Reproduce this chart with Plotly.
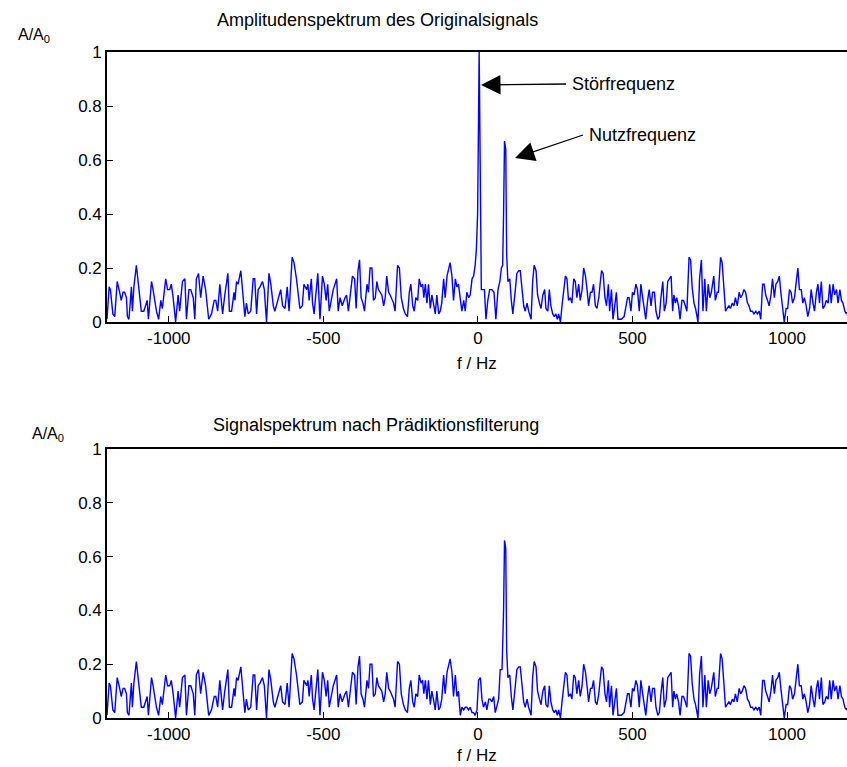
"""
Amplitudenspektrum vor und nach Prädiktionsfilterung
"""
import plotly.graph_objects as go

W, H = 847, 767
ML = 107           # linker Rand in px

# Originalsignal: Frequenz (Hz) und normierte Amplitude A/A0
FREQ_ORIG = [
    -1200, -1193, -1189, -1181, -1175, -1167, -1159, -1154, -1148, -1143, -1137, -1134, -1129, -1121,
    -1118, -1113, -1105, -1097, -1094, -1089, -1081, -1075, -1070, -1066, -1056, -1051, -1046, -1040,
    -1033, -1026, -1021, -1010, -1004, -997, -992, -986, -978, -970, -965, -956, -948, -943, -935,
    -929, -921, -916, -911, -904, -897, -889, -881, -871, -862, -853, -848, -842, -835, -826, -819,
    -813, -809, -804, -797, -789, -786, -781, -776, -767, -762, -754, -749, -743, -735, -727, -722,
    -716, -711, -705, -697, -691, -684, -676, -670, -662, -657, -646, -638, -632, -624, -617, -611,
    -601, -595, -587, -576, -568, -563, -554, -550, -546, -539, -535, -530, -518, -511, -503, -497,
    -491, -486, -481, -468, -457, -452, -446, -439, -430, -425, -419,
    -406, -399, -394, -388, -383, -378, -372, -367, -359, -354, -349, -343, -338, -332, -327, -322,
    -316, -311, -305, -300, -295, -289, -284, -278, -273, -268, -260, -254, -248, -241, -235, -228,
    -222, -217, -211, -206, -201, -195, -190, -184, -179, -175, -170, -165, -160, -154, -149, -144,
    -138, -133, -127, -122, -117, -111, -106, -100, -95, -90, -84, -79, -73, -68, -63, -57, -52, -46,
    -41, -36, -30, -25, -19, -14, -9, -5, -1, 4, 8, 11, 15, 21, 26, 32, 38, 45, 52, 58, 65, 71, 76,
    80, 83, 86, 90, 93, 97, 103, 108, 113, 121, 126, 132, 137, 142, 148, 153, 159, 164, 172, 177,
    182, 188, 193, 199, 204, 210, 216, 220, 226, 231, 236, 242, 247, 252, 257, 261, 267, 272, 277,
    283, 288, 293, 299, 304, 310, 315, 320, 326, 331, 337, 342, 348, 353, 358, 364, 369, 374, 380, 385,
    391, 397, 400, 405, 411, 416, 422, 426, 432, 437, 442, 448, 453, 459, 464, 473, 478, 484, 489,
    495, 500, 505, 511, 516, 522, 527, 533, 538, 543, 549, 554, 560, 565, 571, 576, 582, 587, 592,
    598, 603, 609, 614, 620, 625, 630, 634, 639, 643, 649, 654, 660, 665, 671, 676, 683, 688, 693,
    699, 704, 712, 717, 723, 728, 734, 739, 745, 750, 755, 763, 768, 774, 778, 785, 790, 795, 801,
    806, 812, 817, 823, 828, 833, 839, 845, 850, 855, 861, 866, 872, 877, 882, 888, 893, 899, 904,
    910, 915, 921, 926, 931, 937, 942, 948, 953, 959, 964, 970, 975, 980, 986, 991, 997, 1002, 1008,
    1013, 1018, 1024, 1029, 1035, 1040, 1046, 1051, 1056, 1062, 1067, 1073, 1078, 1084, 1089, 1095,
    1100, 1105, 1111, 1116, 1122, 1127, 1133, 1138, 1143, 1149, 1154, 1160, 1165, 1171, 1176, 1181,
    1187, 1192, 1197, 1205, 1212, 1218,
]
AMP_ORIG = [
    0.01, 0.13, 0.12, 0.03, 0.02, 0.15, 0.11, 0.08, 0.11, 0.11, 0.09, 0.02, 0.01, 0.13,
    0.04, 0.13, 0.21, 0.11, 0.09, 0.04, 0.04, 0.06, 0.08, 0.01, 0.15, 0.12, 0.08, 0.04,
    0.01, 0.08, 0.05, 0.16, 0.12, 0.12, 0.14, 0.09, 0.00, 0.10, 0.04, 0.15, 0.16, 0.01, 0.12,
    0.12, 0.09, 0.01, 0.16, 0.18, 0.09, 0.17, 0.12, 0.01, 0.03, 0.08, 0.08, 0.04, 0.14, 0.03, 0.10,
    0.16, 0.18, 0.04, 0.04, 0.11, 0.08, 0.15, 0.14, 0.19, 0.13, 0.02, 0.07, 0.03, 0.04, 0.16, 0.16,
    0.03, 0.12, 0.13, 0.15, 0.12, 0.00, 0.18, 0.14, 0.06, 0.04, 0.09, 0.12, 0.06, 0.05, 0.13, 0.04,
    0.24, 0.22, 0.16, 0.05, 0.06, 0.14, 0.12, 0.14, 0.08, 0.16, 0.07, 0.03, 0.18, 0.01, 0.17, 0.14,
    0.08, 0.14, 0.04, 0.12, 0.16, 0.04, 0.09, 0.06, 0.09, 0.10, 0.04,
    0.17, 0.16, 0.05, 0.19, 0.23, 0.09, 0.07, 0.04, 0.14, 0.11, 0.20, 0.20, 0.08, 0.09, 0.15, 0.12,
    0.11, 0.10, 0.06, 0.09, 0.17, 0.11, 0.10, 0.08, 0.07, 0.04, 0.21, 0.20, 0.09, 0.05, 0.03, 0.02,
    0.11, 0.14, 0.06, 0.04, 0.09, 0.08, 0.16, 0.13, 0.14, 0.09, 0.14, 0.07, 0.14, 0.05, 0.10, 0.07,
    0.03, 0.10, 0.03, 0.04, 0.07, 0.16, 0.09, 0.17, 0.19, 0.22, 0.17, 0.08, 0.16, 0.13, 0.14, 0.09, 0.04, 0.08,
    0.04, 0.11, 0.09, 0.10, 0.16, 0.17, 0.21, 0.27, 0.40, 1.00, 0.45, 0.12, 0.12, 0.12, 0.01, 0.08, 0.12, 0.12, 0.11, 0.01, 0.12, 0.15, 0.20,
    0.21, 0.40, 0.67, 0.64, 0.25, 0.15, 0.16, 0.08, 0.03, 0.12, 0.18, 0.19, 0.19, 0.13, 0.06, 0.04, 0.07, 0.04, 0.01, 0.15,
    0.21, 0.19, 0.10, 0.07, 0.05, 0.10, 0.12, 0.05, 0.04, 0.12, 0.06, 0.03, 0.02, 0.03, 0.01, 0.03, 0.00, 0.06, 0.11,
    0.17, 0.16, 0.08, 0.09, 0.07, 0.16, 0.15, 0.09, 0.14, 0.08, 0.12, 0.20, 0.17, 0.12, 0.06, 0.11, 0.11, 0.14, 0.06, 0.05,
    0.09, 0.16, 0.19, 0.18, 0.09, 0.06, 0.14, 0.04, 0.12, 0.01, 0.06, 0.11, 0.01, 0.01, 0.01, 0.02, 0.06, 0.09, 0.09,
    0.04, 0.11, 0.10, 0.14, 0.12, 0.04, 0.14, 0.09, 0.04, 0.01, 0.08, 0.12, 0.06, 0.11, 0.11, 0.04, 0.01, 0.02, 0.09,
    0.15, 0.04, 0.07, 0.15, 0.16, 0.17, 0.04, 0.10, 0.07, 0.09, 0.06, 0.01, 0.08, 0.08, 0.06, 0.04, 0.24, 0.23, 0.13,
    0.07, 0.05, 0.00, 0.16, 0.23, 0.04, 0.16, 0.04, 0.14, 0.09, 0.11, 0.17, 0.08, 0.11, 0.11, 0.24, 0.22, 0.14, 0.04,
    0.05, 0.06, 0.05, 0.07, 0.06, 0.09, 0.06, 0.11, 0.09, 0.10, 0.12, 0.11, 0.07, 0.06, 0.04, 0.04, 0.03, 0.04, 0.03,
    0.04, 0.01, 0.14, 0.14, 0.10, 0.08, 0.06, 0.10, 0.16, 0.09, 0.14, 0.15, 0.17, 0.11, 0.05, 0.00, 0.05, 0.05, 0.12,
    0.11, 0.07, 0.09, 0.14, 0.20, 0.12, 0.12, 0.07, 0.09, 0.06, 0.02, 0.05, 0.12, 0.07, 0.04, 0.11,
    0.14, 0.07, 0.15, 0.05, 0.06, 0.08, 0.07, 0.14, 0.07, 0.14, 0.10, 0.12, 0.07, 0.12, 0.08, 0.07,
    0.04, 0.03, 0.04, 0.05, 0.12, 0.08,
]

# nach Prädiktionsfilterung: nur der Bereich um 0 Hz ändert sich
FREQ_MID = [-68, -63, -57, -52, -46, -41, -36, -30, -25, -19, -14, -9, -3, 2, 8, 13, 18, 24, 29,
            35, 40, 45, 51, 56, 62, 67, 72, 78, 83, 86, 90, 93]
AMP_MID = [0.08, 0.10, 0.01, 0.04, 0.03, 0.04, 0.04, 0.03, 0.04, 0.02, 0.02, 0.01, 0.03, 0.14,
           0.15, 0.07, 0.04, 0.06, 0.03, 0.07, 0.07, 0.06, 0.08, 0.02, 0.05, 0.07, 0.18, 0.18,
           0.40, 0.66, 0.63, 0.25]

X_TICKS = [-1000, -500, 0, 500, 1000]
X_LABELS = ['-1000', '-500', '0', '500', '1000']
Y_TICKS = [0, 0.2, 0.4, 0.6, 0.8, 1]
Y_LABELS = ['0', '0.2', '0.4', '0.6', '0.8', '1']

orig = list(zip(FREQ_ORIG, AMP_ORIG))
filt = ([p for p in orig if p[0] < FREQ_MID[0]] + list(zip(FREQ_MID, AMP_MID))
        + [p for p in orig if p[0] > FREQ_MID[-1]])

FONT = 'Liberation Sans, Arial, sans-serif'
BLUE = '#0000ff'


def px(x, y):
    """Pixel -> paper-Koordinaten"""
    return (x - ML) / (W - ML), 1 - y / H


def dom(top, bottom):
    return [1 - bottom / H, 1 - top / H]


fig = go.Figure()
fig.add_trace(go.Scatter(x=[p[0] for p in orig], y=[p[1] for p in orig], mode='lines',
                         line=dict(color=BLUE, width=1.4), xaxis='x', yaxis='y'))
fig.add_trace(go.Scatter(x=[p[0] for p in filt], y=[p[1] for p in filt], mode='lines',
                         line=dict(color=BLUE, width=1.4), xaxis='x2', yaxis='y2'))

axis_style = dict(showline=True, linecolor='black', linewidth=1.6, mirror=True,
                  ticks='inside', ticklen=6, tickwidth=1, tickcolor='black',
                  showgrid=False, zeroline=False, automargin=False,
                  tickfont=dict(family=FONT, size=17, color='black'))
x_style = dict(axis_style, range=[-1200, 1194], tickvals=X_TICKS, ticktext=X_LABELS)
y_style = dict(axis_style, range=[0, 1], tickvals=Y_TICKS, ticktext=Y_LABELS)

fig.update_layout(
    template='none',
    width=W, height=H,
    margin=dict(l=ML, r=0, t=0, b=0, autoexpand=False),
    paper_bgcolor='white', plot_bgcolor='white',
    showlegend=False,
    xaxis=dict(x_style, domain=[0, 1], anchor='y'),
    yaxis=dict(y_style, domain=dom(52, 322), anchor='x'),
    xaxis2=dict(x_style, domain=[0, 1], anchor='y2'),
    yaxis2=dict(y_style, domain=dom(449, 718), anchor='x2'),
)

texts = [
    ('Amplitudenspektrum des Originalsignals', 377, 20, 18),
    ('Signalspektrum nach Prädiktionsfilterung', 376, 425, 18),
    ('A/A<sub>0</sub>', 34, 36, 16),
    ('A/A<sub>0</sub>', 48, 434, 16),
    ('f / Hz', 477, 363, 17),
    ('f / Hz', 477, 755, 17),
]
for txt, x, y, size in texts:
    xp, yp = px(x, y)
    fig.add_annotation(text=txt, x=xp, y=yp, xref='paper', yref='paper',
                       showarrow=False, xanchor='center', yanchor='middle',
                       font=dict(family=FONT, size=size, color='black'))

# Beschriftung der Spitzen mit Pfeil (Spitze -> Textanfang)
for txt, hx, hy, tx, ty in [('Störfrequenz', 481, 85, 566, 84),
                            ('Nutzfrequenz', 515, 158, 583, 135)]:
    xp, yp = px(hx, hy)
    fig.add_annotation(text=txt, x=xp, y=yp, xref='paper', yref='paper',
                       ax=tx - hx, ay=ty - hy, showarrow=True,
                       xanchor='left', yanchor='middle', borderpad=5,
                       arrowhead=2, arrowsize=3, arrowwidth=1.3, arrowcolor='black',
                       font=dict(family=FONT, size=18, color='black'))

# Seitenrand entfernen, damit die Grafik genau das Fenster füllt
fig.write_html("out.html", config={'displayModeBar': False},
               post_script="document.body.style.margin = '0';")
